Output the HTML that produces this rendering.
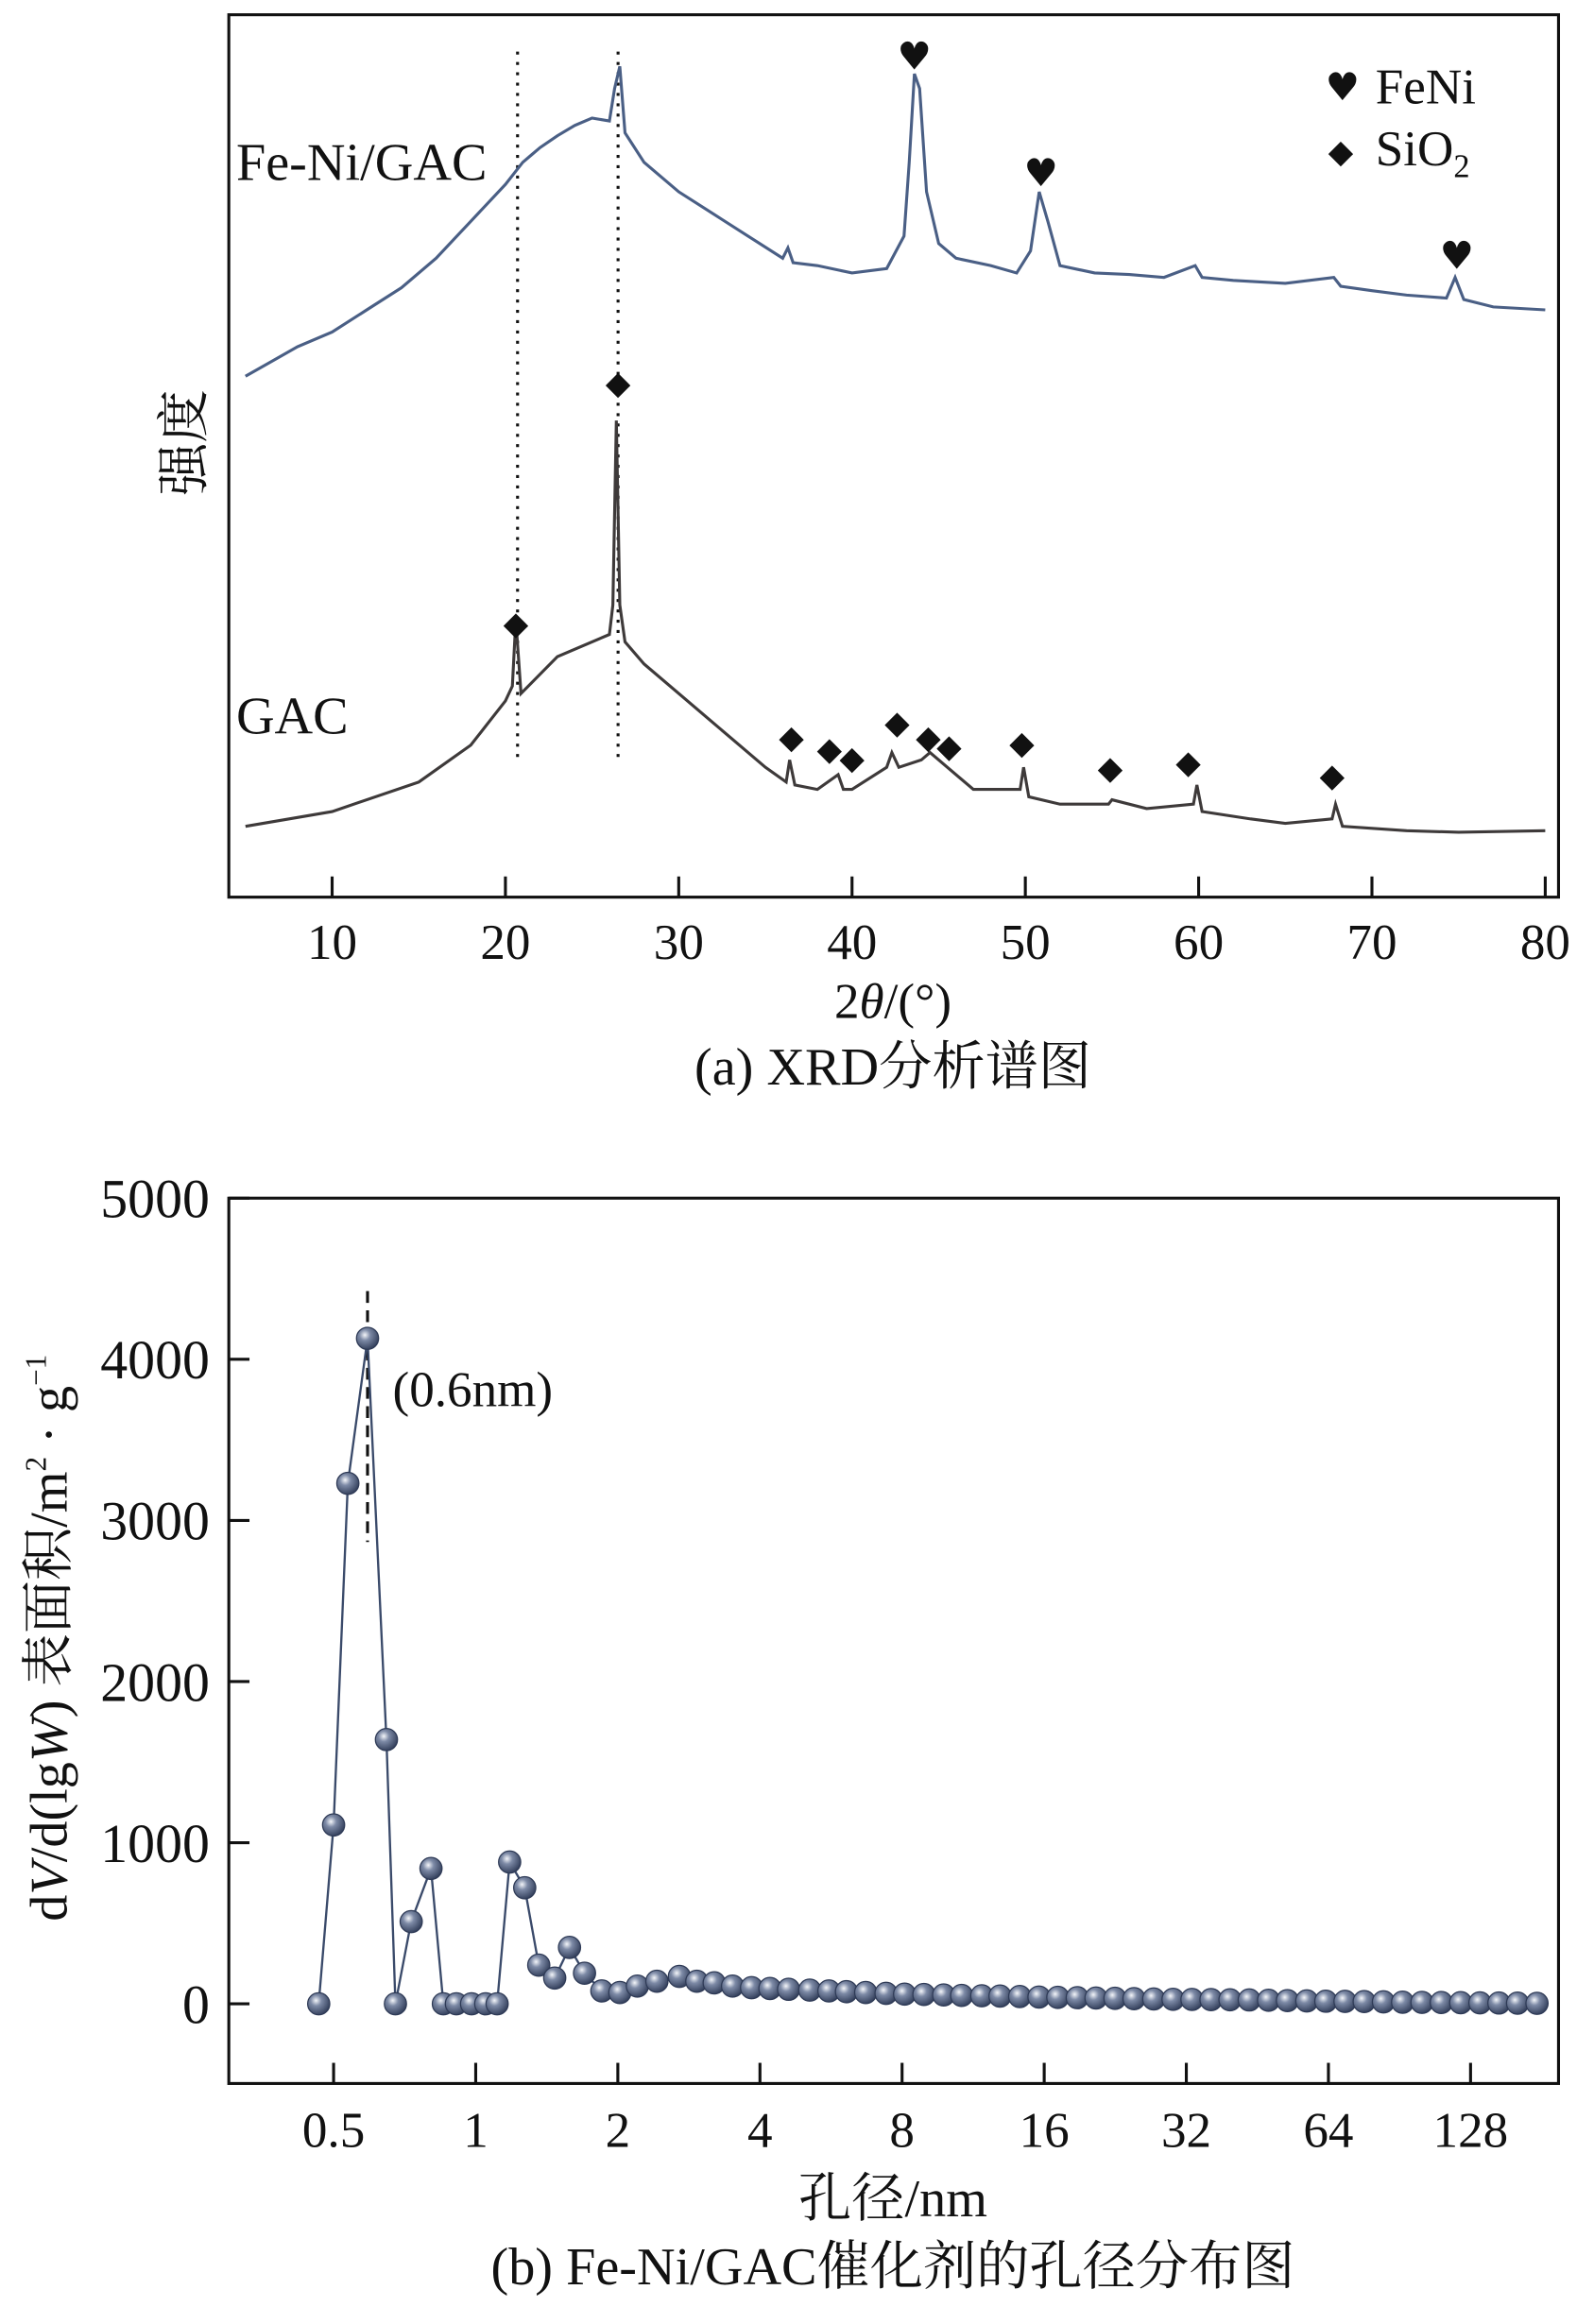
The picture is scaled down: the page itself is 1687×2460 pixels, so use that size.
<!DOCTYPE html>
<html><head><meta charset="utf-8"><style>
html,body{margin:0;padding:0;background:#fff;}
svg{display:block;}
text{font-family:"Liberation Serif","Noto Serif CJK SC",serif;fill:#111;}
</style></head><body>
<svg id="s" width="1687" height="2460" viewBox="0 0 1080 1575" xmlns="http://www.w3.org/2000/svg">
<defs><radialGradient id="ball" cx="0.38" cy="0.35" r="0.7">
<stop offset="0" stop-color="#f4f6fa"/><stop offset="0.35" stop-color="#7d8aa6"/><stop offset="1" stop-color="#2e3a56"/></radialGradient></defs>
<g id="topg"></g>
<g id="bot"></g>
</svg>
<script>
// ---- XRD data ----
const feniTheta=[5,8,10,12,14,16,18,20,21,21.5,22,23,24,25,26,26.3,26.6,26.9,28,30,32,34,36,36.3,36.6,38,40,42,43,43.3,43.6,43.9,44.3,45,46,48,49.5,50.3,50.8,51.3,52,54,56,58,59.8,60.2,62,65,67.8,68.2,70,72,74.3,74.8,75.3,77,80];
const feniI=[345,365,375,390,405,425,450,475,490,495,500,508,515,520,518,540,555,510,490,470,455,440,425,432,422,420,415,418,440,490,550,540,470,435,425,420,415,430,470,450,420,415,414,412,420,412,410,408,412,406,403,400,398,412,397,392,390];
const gacTheta=[5,10,15,18,20,20.4,20.6,20.9,23,25,26,26.2,26.4,26.6,26.9,28,30,33,35,36.2,36.4,36.7,38,39.2,39.5,40,42,42.3,42.7,44,44.5,45.5,47,49.7,49.9,50.2,52,54.8,55,57,59.7,59.9,60.2,63,65,67.7,67.9,68.3,72,75,80];
const gacI=[40,50,70,95,125,135,180,130,155,165,170,190,315,190,165,150,130,100,80,70,85,68,65,75,65,65,80,90,80,85,90,80,65,65,80,60,55,55,58,52,55,68,50,45,42,45,55,40,37,36,37];
const heartTheta=[43.6,50.9,74.9];
const heartI=[563,484,428];
const diamondTheta=[20.6,26.5,36.5,38.7,40,42.6,44.4,45.6,49.8,54.9,59.4,67.7];
const diamondI=[178,341,101,93,87,111,101,95,97,80,84,75];
const xrdTicks=[10,20,30,40,50,60,70,80];
// ---- pore data ----
const poreD=[0.465,0.5,0.536,0.59,0.647,0.676,0.73,0.804,0.854,0.91,0.98,1.05,1.11,1.18,1.27,1.36,1.47,1.58,1.70,1.85,2.02,2.20,2.42,2.70,2.94,3.2,3.5,3.84,4.2,4.6,5.1,5.6,6.1,6.7,7.4,8.1,8.9,9.8,10.7,11.8,12.9,14.2,15.6,17.1,18.8,20.6,22.6,24.8,27.3,30,32.9,36.1,39.6,43.5,47.8,52.4,57.6,63.2,69.4,76.2,83.7,91.9,101,111,122,134,147,161,177];
const poreV=[0,1110,3230,4130,1640,0,510,840,0,0,0,0,0,880,720,240,160,350,190,80,70,110,140,170,140,130,110,100,95,90,85,80,75,70,65,60,58,55,52,50,48,45,42,40,38,36,34,32,30,28,27,26,25,24,22,20,18,16,15,14,12,10,9,8,7,6,5,4,3];
const poreTicks=[0.5,1,2,4,8,16,32,64,128];
const yTicks=[0,1000,2000,3000,4000,5000];

const NS="http://www.w3.org/2000/svg";
function mk(tag,attrs,parent){const e=document.createElementNS(NS,tag);for(const k in attrs)e.setAttribute(k,attrs[k]);parent.appendChild(e);return e;}
const topG=document.getElementById('topg');
const xX=t=>225+(t-10)*11.743, yX=i=>600-i;
let fr=mk('rect',{x:155,y:10,width:901,height:598,fill:'none',stroke:'#111','stroke-width':2},topG);


xrdTicks.forEach(t=>{
 const l=mk('line',{x1:xX(t),x2:xX(t),y1:608,y2:594,stroke:'#111','stroke-width':2},topG);
 
 
 const tx=mk('text',{x:xX(t),y:650,'font-size':34,'text-anchor':'middle'},topG);tx.textContent=t;
 
 
});
[20.7,26.5].forEach(t=>{const l=mk('line',{x1:xX(t),x2:xX(t),y1:35,y2:515,stroke:'#111','stroke-width':2,'stroke-dasharray':'2,5'},topG);
 
 });
function poly(th,I,col,name){const p=mk('polyline',{points:th.map((t,i)=>xX(t)+','+yX(I[i])).join(' '),fill:'none',stroke:col,'stroke-width':2},topG);
 
 }
poly(feniTheta,feniI,'#4a5f85','feni-gac-curve');
poly(gacTheta,gacI,'#3e3a3a','gac-curve');
heartTheta.forEach((t,i)=>{const h=mk('text',{x:xX(t),y:yX(heartI[i])+10,'font-size':26,'text-anchor':'middle',style:'font-family:"DejaVu Sans",sans-serif'},topG);h.textContent='♥';
 
 });
diamondTheta.forEach((t,i)=>{const d=mk('text',{x:xX(t),y:yX(diamondI[i])+8,'font-size':22,'text-anchor':'middle',style:'font-family:"DejaVu Sans",sans-serif'},topG);d.textContent='◆';
 
 });

function tt(parent,x,y,s,html,name,extra){const e=mk('text',Object.assign({x:x,y:y,'font-size':s},extra||{}),parent);e.innerHTML=html;
 
 return e;}
tt(topG,160,122,36,'Fe-Ni/GAC','feni-gac-label');
tt(topG,160,497,36,'GAC','gac-label');
tt(topG,898,68,26,'♥','legend-feni-marker',{style:'font-family:"DejaVu Sans",sans-serif'});
tt(topG,932,70,34,'FeNi','legend-feni-text');
tt(topG,900,110,22,'◆','legend-sio2-marker',{style:'font-family:"DejaVu Sans",sans-serif'});
tt(topG,932,112,34,'SiO<tspan font-size="22" dy="8">2</tspan>','legend-sio2-text');
tt(topG,137,300,36,'强度','xrd-y-axis-title',{transform:'rotate(-90 137 300)','text-anchor':'middle'});
tt(topG,605,690,34,'2<tspan font-style="italic">θ</tspan>/(°)','xrd-x-axis-title',{'text-anchor':'middle'});
tt(topG,605,735,36,'(a) XRD分析谱图','xrd-caption',{'text-anchor':'middle'});

// ---- pore chart ----
const bot=document.getElementById('bot');
const xP=d=>226+96.3*Math.log2(d/0.5), yP=v=>1358-v*0.1092;
const fr2=mk('rect',{x:155,y:812,width:901,height:600,fill:'none',stroke:'#111','stroke-width':2},bot);


yTicks.forEach(v=>{
 const l=mk('line',{x1:155,x2:169,y1:yP(v),y2:yP(v),stroke:'#111','stroke-width':2},bot);
 
 
 const tx=mk('text',{x:142,y:yP(v)+13,'font-size':37,'text-anchor':'end'},bot);tx.textContent=v;
 
 
});
poreTicks.forEach(d=>{
 const l=mk('line',{x1:xP(d),x2:xP(d),y1:1412,y2:1398,stroke:'#111','stroke-width':2},bot);
 
 
 const tx=mk('text',{x:xP(d),y:1455,'font-size':34,'text-anchor':'middle'},bot);tx.textContent=d;
 
 
});
const dl=mk('line',{x1:xP(0.59),x2:xP(0.59),y1:875,y2:1045,stroke:'#111','stroke-width':2,'stroke-dasharray':'8,5'},bot);


const pl=mk('polyline',{points:poreD.map((d,i)=>xP(d)+','+yP(poreV[i])).join(' '),fill:'none',stroke:'#3a4a6a','stroke-width':1.5},bot);


poreD.forEach((d,i)=>{const c=mk('circle',{cx:xP(d),cy:yP(poreV[i]),r:7.5,fill:'url(#ball)',stroke:'#2e3a56','stroke-width':0.8},bot);
 
 });
tt(bot,266,953,34,'(0.6nm)','peak-annotation');
tt(bot,45,1110,36,'d<tspan font-style="italic">V</tspan>/d(lg<tspan font-style="italic">W</tspan>) 表面积/m<tspan font-size="20" dy="-14">2</tspan><tspan dy="14"> · g</tspan><tspan font-size="20" dy="-14">−1</tspan>','pore-y-axis-title',{transform:'rotate(-90 45 1110)','text-anchor':'middle'});
tt(bot,605,1502,36,'孔径/nm','pore-x-axis-title',{'text-anchor':'middle'});
tt(bot,605,1548,36,'(b) Fe-Ni/GAC催化剂的孔径分布图','pore-caption',{'text-anchor':'middle'});
</script>
</body></html>
